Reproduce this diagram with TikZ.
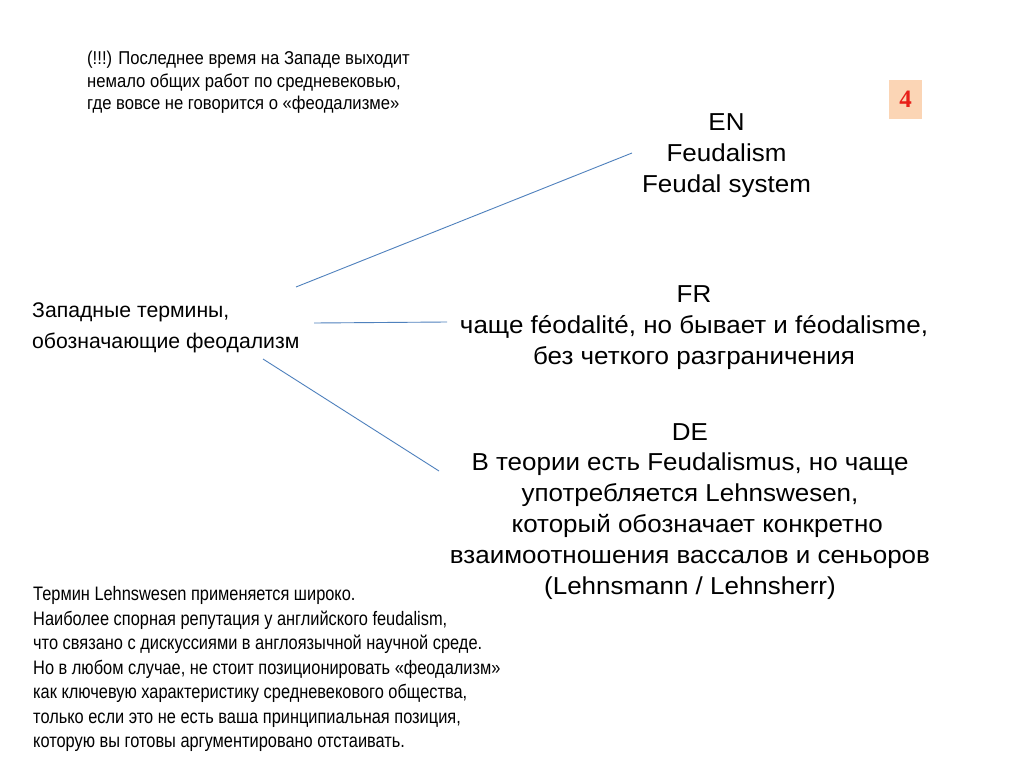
\documentclass[tikz,border=0pt]{standalone}
\usepackage{fontspec}
\setmainfont{Liberation Sans}
\newfontfamily\bigfont[FakeStretch=1.06]{Liberation Sans}
\newfontfamily\topnotefont[FakeStretch=0.895]{Liberation Sans}
\newfontfamily\botnotefont[FakeStretch=0.84]{Liberation Sans}
\newfontfamily\numfont{Liberation Serif}
\definecolor{linkblue}{HTML}{4F81BD}
\definecolor{peach}{HTML}{FBD5B5}
\definecolor{numred}{HTML}{E8201A}
\begin{document}
\begin{tikzpicture}[x=1pt,y=-1pt,
  bigtext/.style={inner sep=0pt,align=center,anchor=base,font=\bigfont\fontsize{24.5}{30.8}\selectfont},
  lefttext/.style={inner sep=0pt,align=left,anchor=base west,font=\fontsize{21.2}{31}\selectfont},
  notetext/.style={inner sep=0pt,align=left,anchor=base west},
  link/.style={draw=linkblue,line width=0.9pt}]
\useasboundingbox[fill=white] (0,0) rectangle (1024,767);
% note top left (anchor = baseline of last line)
\node[notetext,font=\topnotefont\fontsize{18.6}{22.5}\selectfont] (note1) at (87,110)
  {(!!!) Последнее время на Западе выходит\\
   немало общих работ по средневековью,\\
   где вовсе не говорится о «феодализме»};
% number box
\node[fill=peach,minimum width=33pt,minimum height=39pt,inner sep=0pt,
  font=\numfont\bfseries\fontsize{25}{25}\selectfont,text=numred] (num) at (905.5,99.5) {4};
% left node
\node[lefttext] (west) at (32,348.5)
  {Западные термины,\\обозначающие феодализм};
% right nodes
\node[bigtext] (en) at (726.5,192.3) {EN\\Feudalism\\Feudal system};
\node[bigtext] (fr) at (694,364.1) {FR\\чаще féodalité, но бывает и féodalisme,\\без четкого разграничения};
\node[bigtext] (de) at (690,594) {DE\\В теории есть Feudalismus, но чаще\\употребляется Lehnswesen,\\\ \ который обозначает конкретно\\взаимоотношения вассалов и сеньоров\\(Lehnsmann / Lehnsherr)};
% connector ends
\coordinate (wEN) at (296,287);
\coordinate (eEN) at (632,153);
\coordinate (wFR) at (314,323);
\coordinate (eFR) at (447,322);
\coordinate (wDE) at (263,359);
\coordinate (eDE) at (439,471);
\draw[link] (wEN) -- (eEN);
\draw[link] (wFR) -- (eFR);
\draw[link] (wDE) -- (eDE);
% bottom note
\node[notetext,font=\botnotefont\fontsize{19.5}{24.5}\selectfont] (note2) at (33,747.7)
  {Термин Lehnswesen применяется широко.\\
   Наиболее спорная репутация у английского feudalism,\\
   что связано с дискуссиями в англоязычной научной среде.\\
   Но в любом случае, не стоит позиционировать «феодализм»\\
   как ключевую характеристику средневекового общества,\\
   только если это не есть ваша принципиальная позиция,\\
   которую вы готовы аргументировано отстаивать.};
\end{tikzpicture}
\end{document}
